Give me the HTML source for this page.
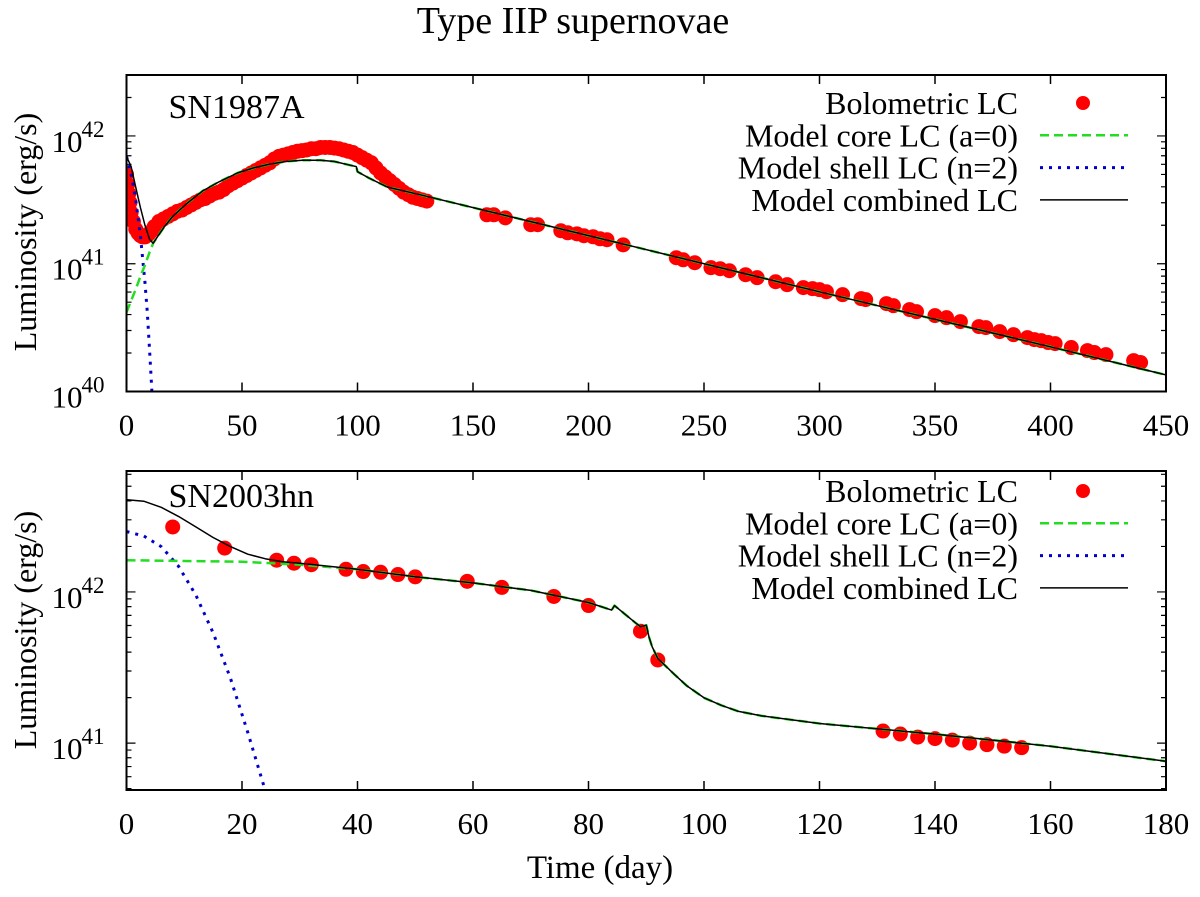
<!DOCTYPE html>
<html><head><meta charset="utf-8"><style>
body{margin:0;background:#fff}
svg text{font-family:"Liberation Serif",serif;fill:#000}
</style></head><body>
<svg id="chart" width="1200" height="892" xmlns="http://www.w3.org/2000/svg">
<text x="573" y="33" font-size="38" text-anchor="middle">Type IIP supernovae</text>
<text x="600" y="878" font-size="33" text-anchor="middle">Time (day)</text>
<text transform="translate(36,232) rotate(-90)" font-size="32" text-anchor="middle">Luminosity (erg/s)</text>
<text transform="translate(36,630) rotate(-90)" font-size="32" text-anchor="middle">Luminosity (erg/s)</text>
<g id="top"></g><g id="bot"></g>
</svg>
<script>
// ---- Top panel (SN1987A) data ----
const topObsDays=[0,0.5,1,1.5,2,3,4,5,6,7,8,9,10,11,12,14,16,18,20,22,24,26,28,30,32,34,36,38,40,42,44,46,48,50,52,54,56,58,60,62,64,66,68,70,72,74,76,78,80,82,84,86,88,90,92,94,96,98,100,102,104,106,108,110,112,114,116,118,120,122,124,126,128,130,
156,159,164,175,178,188,191,195,198,202,205,208,215,238,241,246,253,257,261,268,273,281,286,293,297,300,303,310,318,320,329,332,339,342,350,355,361,369,372,378,384,390,393,396,399,402,409,416,419,424,436,439];
const topObsLog=[41.70,41.62,41.55,41.48,41.40,41.33,41.27,41.24,41.22,41.21,41.21,41.22,41.24,41.26,41.29,41.33,41.35,41.37,41.39,41.41,41.42,41.44,41.46,41.48,41.50,41.51,41.53,41.55,41.56,41.58,41.61,41.63,41.65,41.67,41.69,41.71,41.73,41.75,41.77,41.79,41.82,41.84,41.85,41.86,41.87,41.88,41.885,41.89,41.90,41.90,41.91,41.91,41.91,41.905,41.90,41.89,41.88,41.87,41.85,41.83,41.81,41.79,41.75,41.71,41.68,41.65,41.62,41.59,41.56,41.54,41.52,41.51,41.50,41.49,
41.383,41.383,41.359,41.305,41.305,41.258,41.242,41.234,41.219,41.211,41.195,41.188,41.148,41.047,41.031,41.008,40.969,40.961,40.945,40.914,40.891,40.859,40.836,40.813,40.805,40.797,40.781,40.758,40.727,40.719,40.688,40.672,40.641,40.625,40.594,40.578,40.547,40.508,40.5,40.469,40.445,40.422,40.406,40.398,40.383,40.375,40.344,40.320,40.305,40.289,40.242,40.227];
const topCombDays=[0,2,4,6,8,10,11.5,13,16,20,26,33,40,48,55,62,69,76,84,90,97,99.5,100,105,113,120,127,200,300,400,450];
const topCombLog=[41.84,41.76,41.60,41.44,41.30,41.19,41.16,41.20,41.28,41.37,41.47,41.57,41.64,41.71,41.75,41.78,41.80,41.81,41.81,41.80,41.77,41.76,41.72,41.67,41.60,41.57,41.54,41.22,40.78,40.35,40.13];
const topCoreDays=[0,2,4,6,8,10,11.5,13,16,20,26,33,40,48,55,62,69,76,84,90,97,99.5,100,105,113,120,127,200,300,400,450];
const topCoreLog=[40.62,40.71,40.80,40.90,40.99,41.09,41.16,41.20,41.28,41.37,41.47,41.57,41.64,41.71,41.75,41.78,41.80,41.81,41.81,41.80,41.77,41.76,41.72,41.67,41.60,41.57,41.54,41.22,40.78,40.35,40.13];
const topShellDays=[0,2,4,6,8,9,10,11];
const topShellLog=[41.84,41.70,41.50,41.22,40.85,40.62,40.32,40.0];
// ---- Bottom panel (SN2003hn) data ----
const botObsDays=[8,17,26,29,32,38,41,44,47,50,59,65,74,80,89,92,131,134,137,140,143,146,149,152,155];
const botObsLog=[42.43,42.29,42.21,42.19,42.18,42.15,42.135,42.13,42.115,42.10,42.07,42.03,41.97,41.91,41.74,41.55,41.08,41.06,41.04,41.03,41.02,41.00,40.99,40.98,40.97];
const botCombDays=[0,3,6,9,12,15,18,21,24,27,30,40,50,60,70,80,84,84.5,88,89,90,90.5,91,92,95,97,100,103,106,110,120,140,160,180];
const botCombLog=[42.61,42.60,42.56,42.50,42.43,42.36,42.30,42.25,42.22,42.20,42.19,42.15,42.10,42.06,42.01,41.93,41.88,41.91,41.80,41.77,41.78,41.70,41.64,41.56,41.45,41.38,41.30,41.25,41.21,41.18,41.13,41.06,40.98,40.88];
const botCoreDays=[0,10,20,30,40,50,60,70,80,84,84.5,88,89,90,90.5,91,92,95,97,100,103,106,110,120,140,160,180];
const botCoreLog=[42.21,42.205,42.20,42.18,42.15,42.10,42.06,42.01,41.93,41.88,41.91,41.80,41.77,41.78,41.70,41.64,41.56,41.45,41.38,41.30,41.25,41.21,41.18,41.13,41.06,40.98,40.88];
const botShellDays=[0,3,6,9,12,15,18,21,24];
const botShellLog=[42.40,42.37,42.30,42.17,41.98,41.73,41.43,41.07,40.69];
const topXTicks=[0,50,100,150,200,250,300,350,400,450];
const botXTicks=[0,20,40,60,80,100,120,140,160,180];
const legendLabels=["Bolometric LC","Model core LC (a=0)","Model shell LC (n=2)","Model combined LC"];

const NS="http://www.w3.org/2000/svg";
function mk(parent,tag,attrs){const e=document.createElementNS(NS,tag);for(const k in attrs)e.setAttribute(k,attrs[k]);parent.appendChild(e);return e;}

function panel(g,cfg){
  const {L,R,T,B,xmax,ymin,ymax,xticks,decades,label,obsD,obsL,combD,combL,coreD,coreL,shD,shL,legY,pfx}=cfg;
  const sx=d=>L+(R-L)*d/xmax, sy=v=>B-(B-T)*(v-ymin)/(ymax-ymin);
  const clip=mk(g,'clipPath',{id:pfx+'clip'});mk(clip,'rect',{x:L,y:T,width:R-L,height:B-T});
  xticks.forEach(t=>{const x=sx(t);
    const tk=mk(g,'path',{d:`M${x},${B}v-9M${x},${T}v9`,stroke:'#000','stroke-width':1.5});
    
    
    const tx=mk(g,'text',{x:x,y:B+44,'font-size':31,'text-anchor':'middle'});tx.textContent=t;
    
    });
  for(let p=Math.floor(ymin);p<=Math.ceil(ymax);p++){
    for(let m=1;m<10;m++){const v=p+Math.log10(m);if(v<ymin-1e-6||v>ymax)continue;const y=sy(v);const len=m==1?9:5;
      const tk=mk(g,'path',{d:`M${L},${y}h${len}M${R},${y}h-${len}`,stroke:'#000','stroke-width':1.2});
      
      }
  }
  decades.forEach(p=>{const y=sy(p);
    const tx=mk(g,'text',{x:L-44,y:y+16,'font-size':31,'text-anchor':'end'});tx.textContent='10';
    
    
    const sup=mk(g,'text',{x:L-45,y:y+1,'font-size':23,'text-anchor':'start'});sup.textContent=p;
    
    });
  const cg=mk(g,'g',{'clip-path':`url(#${pfx}clip)`});
  obsD.forEach((d,i)=>{const c=mk(cg,'circle',{cx:sx(d),cy:sy(obsL[i]),r:7.5,fill:'#f00'});
    
    });
  const line=(D,Lg,st,name)=>{const p=mk(cg,'path',Object.assign({d:D.map((d,i)=>(i?'L':'M')+sx(d).toFixed(1)+','+sy(Lg[i]).toFixed(1)).join(''),fill:'none','stroke-linejoin':'round'},st));
    
    };
  line(shD,shL,{stroke:'#0000cc','stroke-width':3,'stroke-dasharray':'3,6'},'shell-model-line');
  line(coreD,coreL,{stroke:'#22dd22','stroke-width':2.5,'stroke-dasharray':'9,5'},'core-model-line');
  line(combD,combL,{stroke:'#000','stroke-width':1.5},'combined-model-line');
  const fr=mk(g,'rect',{x:L,y:T,width:R-L,height:B-T,fill:'none',stroke:'#000','stroke-width':2});
  
  
  const lb=mk(g,'text',{x:L+42,y:cfg.labY,'font-size':34});lb.textContent=label;
  
  
  legendLabels.forEach((s,i)=>{const y=legY+i*32.3;
    const t=mk(g,'text',{x:1018,y:y+11,'font-size':32,'text-anchor':'end'});t.textContent=s;
    
    
    if(i==0)mk(g,'circle',{cx:1083,cy:y,r:7,fill:'#f00'});
    if(i==1)mk(g,'path',{d:`M1040,${y}H1128`,stroke:'#22dd22','stroke-width':2.5,'stroke-dasharray':'9,5'});
    if(i==2)mk(g,'path',{d:`M1040,${y}H1125`,stroke:'#0000cc','stroke-width':3,'stroke-dasharray':'3,6'});
    if(i==3)mk(g,'path',{d:`M1040,${y}H1128`,stroke:'#000','stroke-width':1.5});
  });
}
panel(document.getElementById('top'),{pfx:'t',L:126.5,R:1166,T:75,B:391.5,xmax:450,ymin:40,ymax:42.477,xticks:topXTicks,decades:[40,41,42],label:'SN1987A',labY:118,
  obsD:topObsDays,obsL:topObsLog,combD:topCombDays,combL:topCombLog,coreD:topCoreDays,coreL:topCoreLog,shD:topShellDays,shL:topShellLog,legY:103});
panel(document.getElementById('bot'),{pfx:'b',L:126.5,R:1166,T:471,B:790,xmax:180,ymin:40.69,ymax:42.80,xticks:botXTicks,decades:[41,42],label:'SN2003hn',labY:507,
  obsD:botObsDays,obsL:botObsLog,combD:botCombDays,combL:botCombLog,coreD:botCoreDays,coreL:botCoreLog,shD:botShellDays,shL:botShellLog,legY:491});
</script>
</body></html>
